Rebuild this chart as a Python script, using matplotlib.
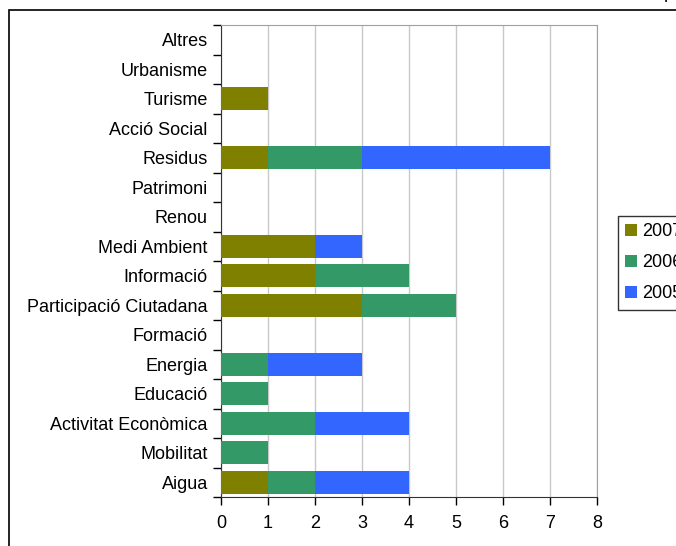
import matplotlib.pyplot as plt
import numpy as np
from matplotlib.patches import Rectangle

plt.rcParams['font.family'] = ['Liberation Sans', 'DejaVu Sans']

categories = ["Aigua", "Mobilitat", "Activitat Econòmica", "Educació", "Energia",
              "Formació", "Participació Ciutadana", "Informació", "Medi Ambient",
              "Renou", "Patrimoni", "Residus", "Acció Social", "Turisme",
              "Urbanisme", "Altres"]
y2007 = [1, 0, 0, 0, 0, 0, 3, 2, 2, 0, 0, 1, 0, 1, 0, 0]
y2006 = [1, 1, 2, 1, 1, 0, 2, 2, 0, 0, 0, 2, 0, 0, 0, 0]
y2005 = [2, 0, 2, 0, 2, 0, 0, 0, 1, 0, 0, 4, 0, 0, 0, 0]
series = [("2007", y2007, "#808000"), ("2006", y2006, "#339966"), ("2005", y2005, "#3366FF")]

fig = plt.figure(figsize=(6.76, 5.46), dpi=100)
W, H = 676, 546
ax = fig.add_axes([221 / W, 1 - 497 / H, (597 - 221) / W, (497 - 25) / H])

pos = np.arange(len(categories))
left = np.zeros(len(categories))
handles = []
for label, vals, col in series:
    vals = np.array(vals, dtype=float)
    b = ax.barh(pos, vals, height=0.78, left=left, color=col, label=label, zorder=3)
    handles.append(b)
    left += vals

FS = 13
ax.set_xlim(0, 8)
ax.set_ylim(-0.5, len(categories) - 0.5)
ax.set_xticks(range(0, 9))
ax.set_yticks(pos)
ax.set_yticklabels(categories)
ax.set_yticks(np.arange(-0.5, len(categories)), minor=True)
ax.tick_params(axis='y', which='major', length=0, pad=9.5, labelsize=FS)
ax.tick_params(axis='y', which='minor', length=6, width=1, direction='out')
ax.tick_params(axis='x', length=6, width=1, pad=7, labelsize=FS)
ax.grid(axis='x', color='#c8c8c8', linewidth=1, zorder=0)

for s in ['top', 'right']:
    ax.spines[s].set_color('#a0a0a0')
for s in ['left', 'bottom']:
    ax.spines[s].set_color('#333333')

leg = fig.legend(handles=handles, labels=[h.get_label() for h in handles],
                 loc='upper left', bbox_to_anchor=(618 / W, 1 - 216 / H),
                 frameon=True, fancybox=False, edgecolor='black', fontsize=FS,
                 handlelength=0.65, handleheight=0.65, handletextpad=0.3,
                 labelspacing=0.78, borderpad=0.4, borderaxespad=0)
leg.get_frame().set_linewidth(1)

# outer chart border (cropped on right and bottom)
fig.patches.append(Rectangle((9 / W, -0.1), 1.2, 1 - 10 / H + 0.1,
                             transform=fig.transFigure, fill=False,
                             edgecolor='black', linewidth=1.2))
fig.text(664 / W, 1 - 2 / H, "p", fontsize=FS, va='bottom')

fig.savefig("out.png", dpi=100)
